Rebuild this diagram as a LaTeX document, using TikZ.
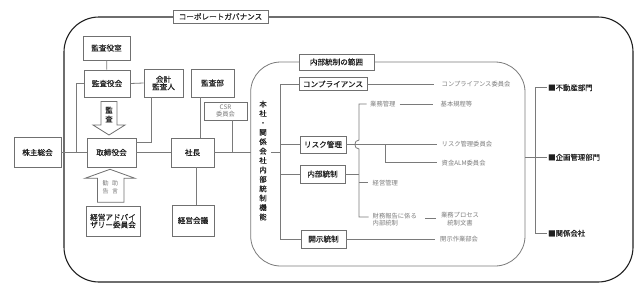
\documentclass[tikz,border=0pt]{standalone}
\usepackage{fontspec}
\newfontfamily\jp{Noto Sans CJK JP}
\newfontfamily\jpb[FakeBold=0.35]{Noto Sans CJK JP}
\definecolor{boxgray}{HTML}{707070}
\definecolor{linegray}{HTML}{7A7A7A}
\definecolor{textgray}{HTML}{7C7C7C}
\definecolor{dark}{HTML}{202020}
\begin{document}
\begin{tikzpicture}[x=1pt,y=-1pt,
  box/.style={draw=boxgray, fill=white, line width=0.8pt, inner sep=0pt, text=dark,
    font=\jpb\fontsize{7.6}{9}\selectfont, align=center},
  ln/.style={draw=linegray, line width=0.8pt},
  gtext/.style={text=textgray, font=\jp\fontsize{6.3}{7.4}\selectfont, inner sep=0pt, anchor=west, align=left},
  dtext/.style={text=dark, font=\jpb\fontsize{7.4}{9}\selectfont, inner sep=0pt, anchor=west}]
\useasboundingbox (0,0) rectangle (644,292);
% frames
\draw[draw=dark, line width=1.1pt, rounded corners=35pt] (64,17) rectangle (633,282);
\draw[ln, rounded corners=30pt] (250.7,62) rectangle (525,266);
\node[box, minimum width=95, minimum height=13] (cg) at (220.5,16.5) {コーポレートガバナンス};
\node[box, minimum width=75, minimum height=16] (nr) at (336.5,62) {内部統制の範囲};
% left boxes
\node[box, minimum width=47, minimum height=24] (ksr) at (106.5,48) {監査役室};
\node[box, minimum width=46, minimum height=27] (ksk) at (107,83.5) {監査役会};
\node[box, minimum width=39, minimum height=28] (kk) at (163.5,83) {会計\\[-1.5pt]監査人};
\node[box, minimum width=43, minimum height=28] (ksb) at (212.5,83) {監査部};
\node[box, minimum width=43, minimum height=18, text=textgray, font=\jp\fontsize{6.3}{7.2}\selectfont] (csr) at (225.5,111) {CSR\\委員会};
\node[box, minimum width=49, minimum height=29] (tk) at (111.5,152.5) {取締役会};
\node[box, minimum width=43, minimum height=29] (sc) at (192.5,152.5) {社長};
\node[box, minimum width=47, minimum height=30] (kb) at (37.5,152.5) {株主総会};
\node[box, minimum width=54, minimum height=30] (ad) at (113,221) {経営アドバイ\\[-1.5pt]ザリー委員会};
\node[box, minimum width=42, minimum height=31] (kg) at (193,220.5) {経営会議};
% block arrows
\draw[draw=boxgray, fill=white, line width=0.8pt] (101,101.5) -- (117,101.5) -- (117,125) -- (125,125) -- (109,135) -- (93,125) -- (101,125) -- cycle;
\node[text=dark, font=\jpb\fontsize{7.4}{9}\selectfont, align=center, inner sep=0pt] (kst) at (109,114.5) {監\\査};
\draw[draw=boxgray, fill=white, line width=0.8pt] (97.5,202.3) -- (124,202.3) -- (124,178.3) -- (135,178.3) -- (110,169.3) -- (85,178.3) -- (97.5,178.3) -- cycle;
\node[text=textgray, font=\jp\fontsize{6}{8}\selectfont, align=center, inner sep=0pt] (kkt) at (105.5,187.5) {勧\\告};
\node[text=textgray, font=\jp\fontsize{6}{8}\selectfont, align=center, inner sep=0pt] (jgt) at (115,187.5) {助\\言};
% left connectors
\coordinate (k1) at (151,142);
\coordinate (j1) at (76,152.5);
\coordinate (x200) at (200,0);
\coordinate (x196) at (196,0);
\coordinate (c1) at (232,152.5);
\coordinate (inL) at (250.7,152.5);
\draw[ln] (ksr) -- (ksk);
\draw[ln] (ksk.east) -- (kk.west);
\draw[ln] (kk.south -| k1) -- (k1) -- (tk.east |- k1);
\draw[ln] (ksk.west) -| (j1);
\draw[ln] (kb.east) -- (tk.west);
\draw[ln] (tk.east) -- (sc.west);
\draw[ln] (ksb.south -| x200) -- (sc.north -| x200);
\draw[ln] (csr.south -| c1) -- (c1);
\draw[ln] (sc.east) -- (inL);
\draw[ln] (sc.south -| x196) -- (kg.north -| x196);
% inner boxes
\node[box, minimum width=68, minimum height=13] (cp) at (333,84) {コンプライアンス};
\node[box, minimum width=46, minimum height=17] (rk) at (323,144.5) {リスク管理};
\node[box, minimum width=45, minimum height=18] (nt) at (322.5,174) {内部統制};
\node[box, minimum width=45, minimum height=18] (kj) at (323.5,239) {開示統制};
\node[text=dark, font=\jpb\fontsize{7.4}{9.4}\selectfont, align=center, inner sep=0pt] (vt) at (263,160.5)
  {本\\社\\・\\関\\係\\会\\社\\内\\部\\統\\制\\機\\能};
\coordinate (b1) at (280,84);
\coordinate (b2) at (280,239);
\coordinate (bv) at (280,152);
\draw[ln] (cp.west) -- (b1) -- (b2) -- (kj.west);
\draw[ln] (rk.west) -- (rk.west -| b1);
\draw[ln] (nt.west) -- (nt.west -| b1);
\draw[ln] (271,152) -- (bv);
% gray texts
\node[gtext] (cpi) at (441.5,84) {コンプライアンス委員会};
\node[gtext] (gm) at (370,104) {業務管理};
\node[gtext] (kh) at (440.5,104) {基本規程等};
\node[gtext] (rki) at (441.5,144.5) {リスク管理委員会};
\node[gtext] (alm) at (441.5,162.7) {資金ALM委員会};
\node[gtext] (kei) at (372.5,182.7) {経営管理};
\node[gtext] (zm) at (372.5,219.7) {財務報告に係る\\内部統制};
\node[text=textgray, font=\jp\fontsize{6.3}{7.4}\selectfont, inner sep=0pt, align=center] (gp) at (460,219) {業務プロセス\\統制文書};
\node[gtext] (kjb) at (440,239) {開示作業部会};
% inner connectors
\coordinate (v1) at (359,104);
\coordinate (v2) at (359,217);
\coordinate (h1) at (359,140);
\coordinate (h2) at (359,149);
\coordinate (r1) at (385,144.5);
\coordinate (r2) at (385,162.7);
\draw[ln] (cp.east) -- ([xshift=-8pt]cpi.west);
\draw[ln] ([xshift=-3.5pt]gm.west) -- (v1) -- (h1) .. controls (353.5,140) and (353.5,149) .. (h2) -- (v2) -- ([xshift=-4pt]zm.west |- v2);
\draw[ln] ([xshift=4pt]gm.east) -- ([xshift=-8pt]kh.west);
\draw[ln] (rk.east) -- ([xshift=-4.5pt]rki.west);
\draw[ln] (r1) -- (r2) -- ([xshift=-4.5pt]alm.west);
\draw[ln] (nt.east) -- (nt.east -| v1);
\draw[ln] (kei.west -| v1) -- ([xshift=-4.5pt]kei.west);
\draw[ln] (425,218.3) -- ([xshift=-4.5pt]gp.west |- 0,218.3);
\draw[ln] (kj.east) -- ([xshift=-5pt]kjb.west);
% right side
\node[dtext] (fd) at (548,87.7) {■不動産部門};
\node[dtext] (kkb) at (548,157.3) {■企画管理部門};
\node[dtext] (kgs) at (548,233.3) {■関係会社};
\coordinate (rb1) at (535,87.7);
\coordinate (rb2) at (535,233.3);
\coordinate (rbm) at (535,157.3);
\draw[ln] (525,157.3) -- (rbm);
\draw[ln] ([xshift=-1.5pt]fd.west) -- (rb1) -- (rb2) -- ([xshift=-1.5pt]kgs.west);
\draw[ln] (rbm) -- ([xshift=-1.5pt]kkb.west);
\end{tikzpicture}
\end{document}
